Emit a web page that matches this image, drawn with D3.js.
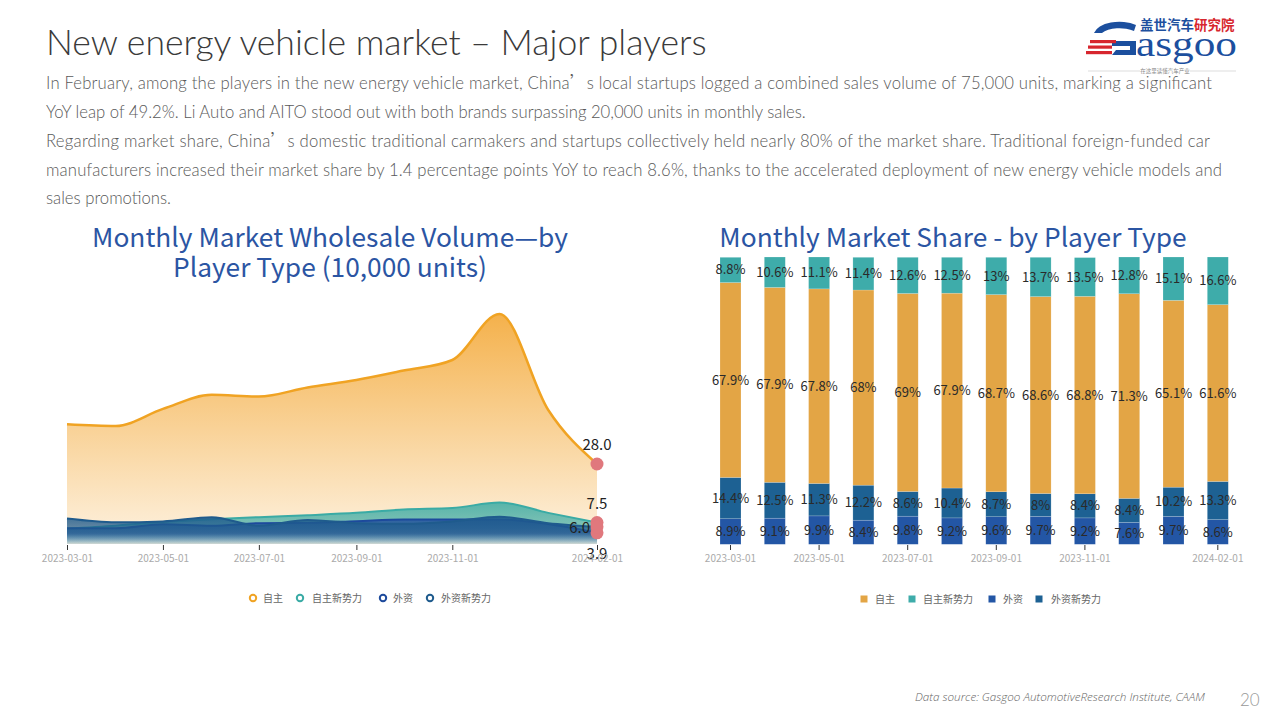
<!DOCTYPE html>
<html><head><meta charset="utf-8">
<script src="https://cdn.jsdelivr.net/npm/d3@7/dist/d3.min.js"></script>
<style>
html,body{margin:0;padding:0;background:#fff;}
svg{display:block;}
</style></head>
<body>
<svg id="c" width="1280" height="720"></svg>
<script>
// ---------- data ----------
const months = ["2023-03-01","2023-04-01","2023-05-01","2023-06-01","2023-07-01","2023-08-01","2023-09-01","2023-10-01","2023-11-01","2023-12-01","2024-01-01","2024-02-01"];
const seriesNames = ["自主","自主新势力","外资","外资新势力"];
// Monthly wholesale volume (10,000 units)
const volZizhu      = [41.9, 41.3, 47.3, 52.2, 51.6, 54.8, 57.4, 60.7, 64.4, 80.5, 46.9, 28.0];
const volZizhuNew   = [5.4, 6.4, 7.7, 8.7, 9.4, 10.1, 10.9, 12.1, 12.6, 14.5, 10.9, 7.5];
const volForeign    = [5.5, 5.5, 6.9, 6.4, 7.3, 7.4, 8.0, 8.6, 8.6, 8.6, 7.0, 3.9];
const volForeignNew = [8.9, 7.6, 7.9, 9.4, 6.4, 8.4, 7.3, 7.1, 7.9, 9.5, 7.3, 6.0];
// Market share (%)
const shareZizhu      = [67.9, 67.9, 67.8, 68, 69, 67.9, 68.7, 68.6, 68.8, 71.3, 65.1, 61.6];
const shareZizhuNew   = [8.8, 10.6, 11.1, 11.4, 12.6, 12.5, 13, 13.7, 13.5, 12.8, 15.1, 16.6];
const shareForeign    = [8.9, 9.1, 9.9, 8.4, 9.8, 9.2, 9.6, 9.7, 9.2, 7.6, 9.7, 8.6];
const shareForeignNew = [14.4, 12.5, 11.3, 12.2, 8.6, 10.4, 8.7, 8, 8.4, 8.4, 10.2, 13.3];
const leftTicks  = ["2023-03-01","2023-05-01","2023-07-01","2023-09-01","2023-11-01","2024-02-01"];
const rightTickIdx = [0, 2, 4, 6, 8, 11];

const parse = d3.timeParse("%Y-%m-%d");
const dates = months.map(parse);
const svg = d3.select("#c");
const defs = svg.append("defs");

const BODY = "Lato, 'Open Sans', sans-serif";
const CJK = "'Noto Sans CJK SC', 'Noto Sans', sans-serif";
function fit(sel, target){
  const w = sel.node().getComputedTextLength();
  const fs = parseFloat(sel.attr("font-size"));
  sel.attr("font-size", (fs*target/w).toFixed(2));
}

// ---------- header ----------
const title = svg.append("text").attr("x",46).attr("y",55).attr("font-family",BODY)
  .attr("font-weight",300).attr("font-size",32).attr("fill","#3a3a3a")
  .text("New energy vehicle market – Major players");
fit(title, 661);

const para = [
 ["In February, among the players in the new energy vehicle market, China", "’", "s local startups logged a combined sales volume of 75,000 units, marking a significant", 1166],
 ["YoY leap of 49.2%. Li Auto and AITO stood out with both brands surpassing 20,000 units in monthly sales.", "", "", 0],
 ["Regarding market share, China", "’", "s domestic traditional carmakers and startups collectively held nearly 80% of the market share. Traditional foreign-funded car", 1164],
 ["manufacturers increased their market share by 1.4 percentage points YoY to reach 8.6%, thanks to the accelerated deployment of new energy vehicle models and", "", "", 1176],
 ["sales promotions.", "", "", 0]
];
const pBase = [89, 118, 147, 176, 204];
const probe = svg.append("text").attr("font-family",BODY).attr("font-weight",300).attr("font-size",15).text(para[1][0]);
const pfs = 15*760/probe.node().getComputedTextLength();
probe.remove();
para.forEach((p,i)=>{
  const t = svg.append("text").attr("x",46).attr("y",pBase[i]).attr("font-family",BODY)
    .attr("font-weight",300).attr("font-size",pfs).attr("fill","#595959");
  t.append("tspan").text(p[0]);
  if(p[1]){ t.append("tspan").attr("font-family",CJK).text(p[1]); t.append("tspan").text(p[2]); }
  if(p[3]) t.attr("textLength",p[3]).attr("lengthAdjust","spacing");
});

// ---------- logo ----------
const logo = svg.append("g");
const lt = logo.append("text").attr("x",1140).attr("y",30).attr("font-family",CJK).attr("font-weight",700).attr("font-size",13.5);
lt.append("tspan").attr("fill","#1d4f9e").text("盖世汽车");
lt.append("tspan").attr("fill","#d7262e").text("研究院");
// stylised G
logo.append("path").attr("d","M1136,25 A26,14 0 0 0 1094,33 L1102,33 A20,9 0 0 1 1134,31 Z").attr("fill","#1c4f9e");
logo.append("path").attr("d","M1112,41 L1136,41 L1136,55 L1112,55 L1116,50 L1130,50 L1130,46 L1112,46 Z").attr("fill","#1c4f9e");
[[1090,40,26],[1088,45.5,24],[1086,51,26]].forEach(r=>logo.append("rect").attr("x",r[0]).attr("y",r[1]).attr("width",r[2]).attr("height",3.2).attr("fill","#d7262e"));
logo.append("text").attr("x",1136).attr("y",56).attr("font-family","'Liberation Serif', serif")
  .attr("font-size",36).attr("fill","#1c4f9e").attr("textLength",101).attr("lengthAdjust","spacingAndGlyphs").text("asgoo");
logo.append("line").attr("x1",1088).attr("x2",1236).attr("y1",71).attr("y2",71).attr("stroke","#c8c8c8").attr("stroke-width",0.6);
logo.append("rect").attr("x",1140).attr("y",67).attr("width",50).attr("height",8).attr("fill","#fff");
logo.append("text").attr("x",1165).attr("y",73).attr("text-anchor","middle").attr("font-family",CJK)
  .attr("font-size",5.5).attr("fill","#888").text("在这里读懂汽车产业");

// ---------- left chart ----------
const colL = {"自主":"#f0a323","自主新势力":"#3aaba5","外资":"#1d4a9c","外资新势力":"#1f5b8d"};
const lt1 = svg.append("text").attr("x",330).attr("y",247).attr("text-anchor","middle").attr("font-family",CJK)
  .attr("font-size",24).attr("fill","#2b55a3").text("Monthly Market Wholesale Volume—by");
fit(lt1, 476);
svg.append("text").attr("x",330).attr("y",277).attr("text-anchor","middle").attr("font-family",CJK)
  .attr("font-size",lt1.attr("font-size")).attr("fill","#2b55a3").text("Player Type (10,000 units)");

const xL = d3.scaleTime().domain([parse("2023-03-01"), parse("2024-02-01")]).range([67, 597]);
const yL = d3.scaleLinear().domain([0, 90]).range([544, 544 - 90*2.857]);

const leftSeries = [
  {name:"自主", vals:volZizhu, top:"#f4ad42", topO:0.95, botC:"#fdf0dc", botO:0.9},
  {name:"自主新势力", vals:volZizhuNew, top:"#3aaba5", topO:0.85, botC:"#3a8faa", botO:0.05},
  {name:"外资", vals:volForeign, top:"#1d4a9c", topO:0.8, botC:"#3f88b0", botO:0.1},
  {name:"外资新势力", vals:volForeignNew, top:"#1f5b8d", topO:0.85, botC:"#4a93b5", botO:0.1}
];
leftSeries.forEach((s,i)=>{
  const g = defs.append("linearGradient").attr("id","lg"+i).attr("x1",0).attr("y1",0).attr("x2",0).attr("y2",1);
  g.append("stop").attr("offset","0%").attr("stop-color",s.top).attr("stop-opacity",s.topO);
  if(i>0) g.append("stop").attr("offset","60%").attr("stop-color",s.top).attr("stop-opacity",s.topO*0.75);
  g.append("stop").attr("offset","100%").attr("stop-color",s.botC).attr("stop-opacity",s.botO);
});
const area = d3.area().x((d,i)=>xL(dates[i])).y0(yL(0)).y1(d=>yL(d)).curve(d3.curveMonotoneX);
const line = d3.line().x((d,i)=>xL(dates[i])).y(d=>yL(d)).curve(d3.curveMonotoneX);
leftSeries.forEach((s,i)=>{
  svg.append("path").datum(s.vals).attr("d",area).attr("fill",`url(#lg${i})`);
  svg.append("path").datum(s.vals).attr("d",line).attr("fill","none")
    .attr("stroke",colL[s.name]).attr("stroke-width",i===0?2.5:2);
});
// end dots and labels
const last = months.length-1;
const labelPos = {"自主":[0,-14,"middle"],"自主新势力":[0,-14,"middle"],"外资新势力":[-7,6,"end"],"外资":[0,26,"middle"]};
leftSeries.forEach(s=>{
  svg.append("circle").attr("cx",xL(dates[last])).attr("cy",yL(s.vals[last])).attr("r",6.5).attr("fill","#e0787d");
});
leftSeries.forEach(s=>{
  const p = labelPos[s.name];
  svg.append("text").attr("x",xL(dates[last])+p[0]).attr("y",yL(s.vals[last])+p[1]).attr("text-anchor",p[2])
    .attr("font-family",CJK).attr("font-size",15).attr("fill","#222").text(s.vals[last].toFixed(1));
});
// x axis
const axL = svg.append("g").attr("transform","translate(0,545)")
  .call(d3.axisBottom(xL).tickValues(leftTicks.map(parse)).tickFormat(d3.timeFormat("%Y-%m-%d")).tickSize(5).tickPadding(5));
axL.select(".domain").remove();
axL.selectAll(".tick line").attr("stroke","#333");
axL.selectAll(".tick text").attr("fill","#aaa").attr("font-family",CJK).attr("font-size",10);

// left legend
const legL = [[253,263],[300,312],[383,393],[430,441]];
seriesNames.forEach((n,i)=>{
  svg.append("circle").attr("cx",legL[i][0]).attr("cy",598).attr("r",3.2).attr("fill","#fff")
    .attr("stroke",colL[n]).attr("stroke-width",2);
  svg.append("text").attr("x",legL[i][1]).attr("y",598).attr("dy","0.35em").attr("font-family",CJK)
    .attr("font-size",10).attr("fill","#666").text(n);
});

// ---------- right chart ----------
const colR = {"自主":"#e3a545","自主新势力":"#3eacaa","外资":"#2356a5","外资新势力":"#1d6193"};
svg.append("text").attr("x",953).attr("y",247).attr("text-anchor","middle").attr("font-family",CJK)
  .attr("font-size",lt1.attr("font-size")).attr("fill","#2b55a3").text("Monthly Market Share - by Player Type");

const xR = d3.scaleBand().domain(months).range([708.35, 1239.95]).paddingInner(0.526).paddingOuter(0.263);
const yR = d3.scaleLinear().domain([0, 100]).range([544.3, 257.3]);
const stackOrder = [["外资",shareForeign],["外资新势力",shareForeignNew],["自主",shareZizhu],["自主新势力",shareZizhuNew]];
months.forEach((m,i)=>{
  let acc = 0;
  stackOrder.forEach(([n,arr])=>{
    const v = arr[i];
    const y0 = yR(acc), y1 = yR(acc+v);
    svg.append("rect").attr("x",xR(m)).attr("width",xR.bandwidth()).attr("y",y1).attr("height",y0-y1)
      .attr("fill",colR[n]).attr("stroke","rgba(255,255,255,0.35)").attr("stroke-width",0.5);
    acc += v;
  });
});
months.forEach((m,i)=>{
  let acc = 0;
  stackOrder.forEach(([n,arr])=>{
    const v = arr[i];
    svg.append("text").attr("x",xR(m)+xR.bandwidth()/2).attr("y",(yR(acc)+yR(acc+v))/2).attr("dy","0.35em")
      .attr("text-anchor","middle").attr("font-family",CJK).attr("font-size",13).attr("fill","#2a2a2a").text(v+"%");
    acc += v;
  });
});
const axR = svg.append("g").attr("transform","translate(0,545)")
  .call(d3.axisBottom(xR).tickValues(rightTickIdx.map(i=>months[i])).tickSize(5).tickPadding(5));
axR.select(".domain").remove();
axR.selectAll(".tick line").attr("stroke","#333");
axR.selectAll(".tick text").attr("fill","#aaa").attr("font-family",CJK).attr("font-size",10);

const legR = [[864,875],[912,923],[992,1003],[1039,1051]];
seriesNames.forEach((n,i)=>{
  svg.append("rect").attr("x",legR[i][0]-3.5).attr("y",595.5).attr("width",7).attr("height",7).attr("fill",colR[n]);
  svg.append("text").attr("x",legR[i][1]).attr("y",599).attr("dy","0.35em").attr("font-family",CJK)
    .attr("font-size",10).attr("fill","#666").text(n);
});

// ---------- footer ----------
const src = svg.append("text").attr("x",915).attr("y",701).attr("font-family","'Open Sans', sans-serif")
  .attr("font-style","italic").attr("font-weight",300).attr("font-size",11).attr("fill","#666")
  .text("Data source: Gasgoo AutomotiveResearch Institute, CAAM");
fit(src, 290);
svg.append("text").attr("x",1240).attr("y",706).attr("font-family",BODY).attr("font-weight",300)
  .attr("font-size",17).attr("fill","#999").text("20");
</script>
</body></html>
